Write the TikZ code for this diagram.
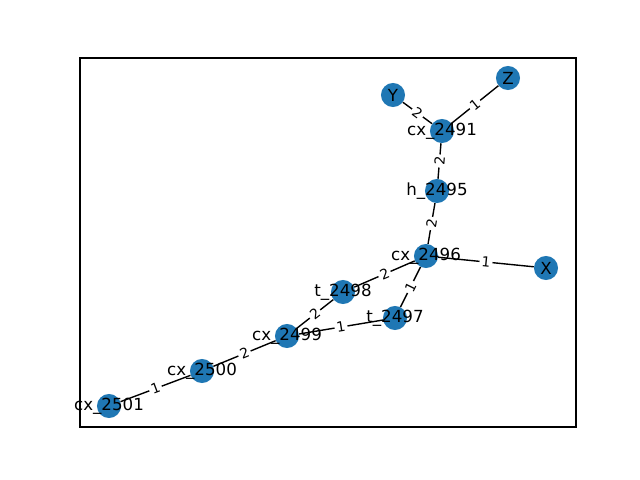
\documentclass[tikz,border=0pt]{standalone}
\usepackage{fontspec}
\setmainfont{DejaVu Sans}
\definecolor{nxblue}{HTML}{1F77B4}
\begin{document}
\begin{tikzpicture}[x=0.72pt,y=-0.72pt,
  vtx/.style={circle,fill=nxblue,minimum size=17.3pt,inner sep=0pt},
  vlab/.style={font=\fontsize{12}{14}\selectfont,inner sep=0pt,text=black},
  elab/.style={font=\fontsize{10}{12}\selectfont,fill=white,inner sep=1.5pt,sloped,midway,rounded corners=2pt},
  conn/.style={draw=black,line width=1pt}]
\useasboundingbox (0,0) rectangle (640,480);
\draw[line width=0.8pt] (80,58) rectangle (576,427);
% vertices
\node[vtx] (Y) at (393,95) {};
\node[vtx] (Z) at (508,78) {};
\node[vtx] (c2491) at (442,131) {};
\node[vtx] (h2495) at (437,191) {};
\node[vtx] (c2496) at (426,256) {};
\node[vtx] (X) at (546,268) {};
\node[vtx] (t2498) at (343,292) {};
\node[vtx] (t2497) at (395,318) {};
\node[vtx] (c2499) at (287,336) {};
\node[vtx] (c2500) at (202,371) {};
\node[vtx] (c2501) at (109,406) {};
% connectors
\draw[conn] (Y) -- (c2491) node[elab] {2};
\draw[conn] (Z) -- (c2491) node[elab] {1};
\draw[conn] (c2491) -- (h2495) node[elab] {2};
\draw[conn] (h2495) -- (c2496) node[elab] {2};
\draw[conn] (c2496) -- (X) node[elab] {1};
\draw[conn] (c2496) -- (t2498) node[elab] {2};
\draw[conn] (c2496) -- (t2497) node[elab] {1};
\draw[conn] (t2498) -- (c2499) node[elab] {2};
\draw[conn] (t2497) -- (c2499) node[elab] {1};
\draw[conn] (c2499) -- (c2500) node[elab] {2};
\draw[conn] (c2500) -- (c2501) node[elab] {1};
% labels
\node[vlab] (lY) at (Y) {Y};
\node[vlab] (lZ) at (Z) {Z};
\node[vlab] (l2491) at (c2491) {cx\_2491};
\node[vlab] (l2495) at (h2495) {h\_2495};
\node[vlab] (l2496) at (c2496) {cx\_2496};
\node[vlab] (lX) at (X) {X};
\node[vlab] (l2498) at (t2498) {t\_2498};
\node[vlab] (l2497) at (t2497) {t\_2497};
\node[vlab] (l2499) at (c2499) {cx\_2499};
\node[vlab] (l2500) at (c2500) {cx\_2500};
\node[vlab] (l2501) at (c2501) {cx\_2501};
\end{tikzpicture}
\end{document}
